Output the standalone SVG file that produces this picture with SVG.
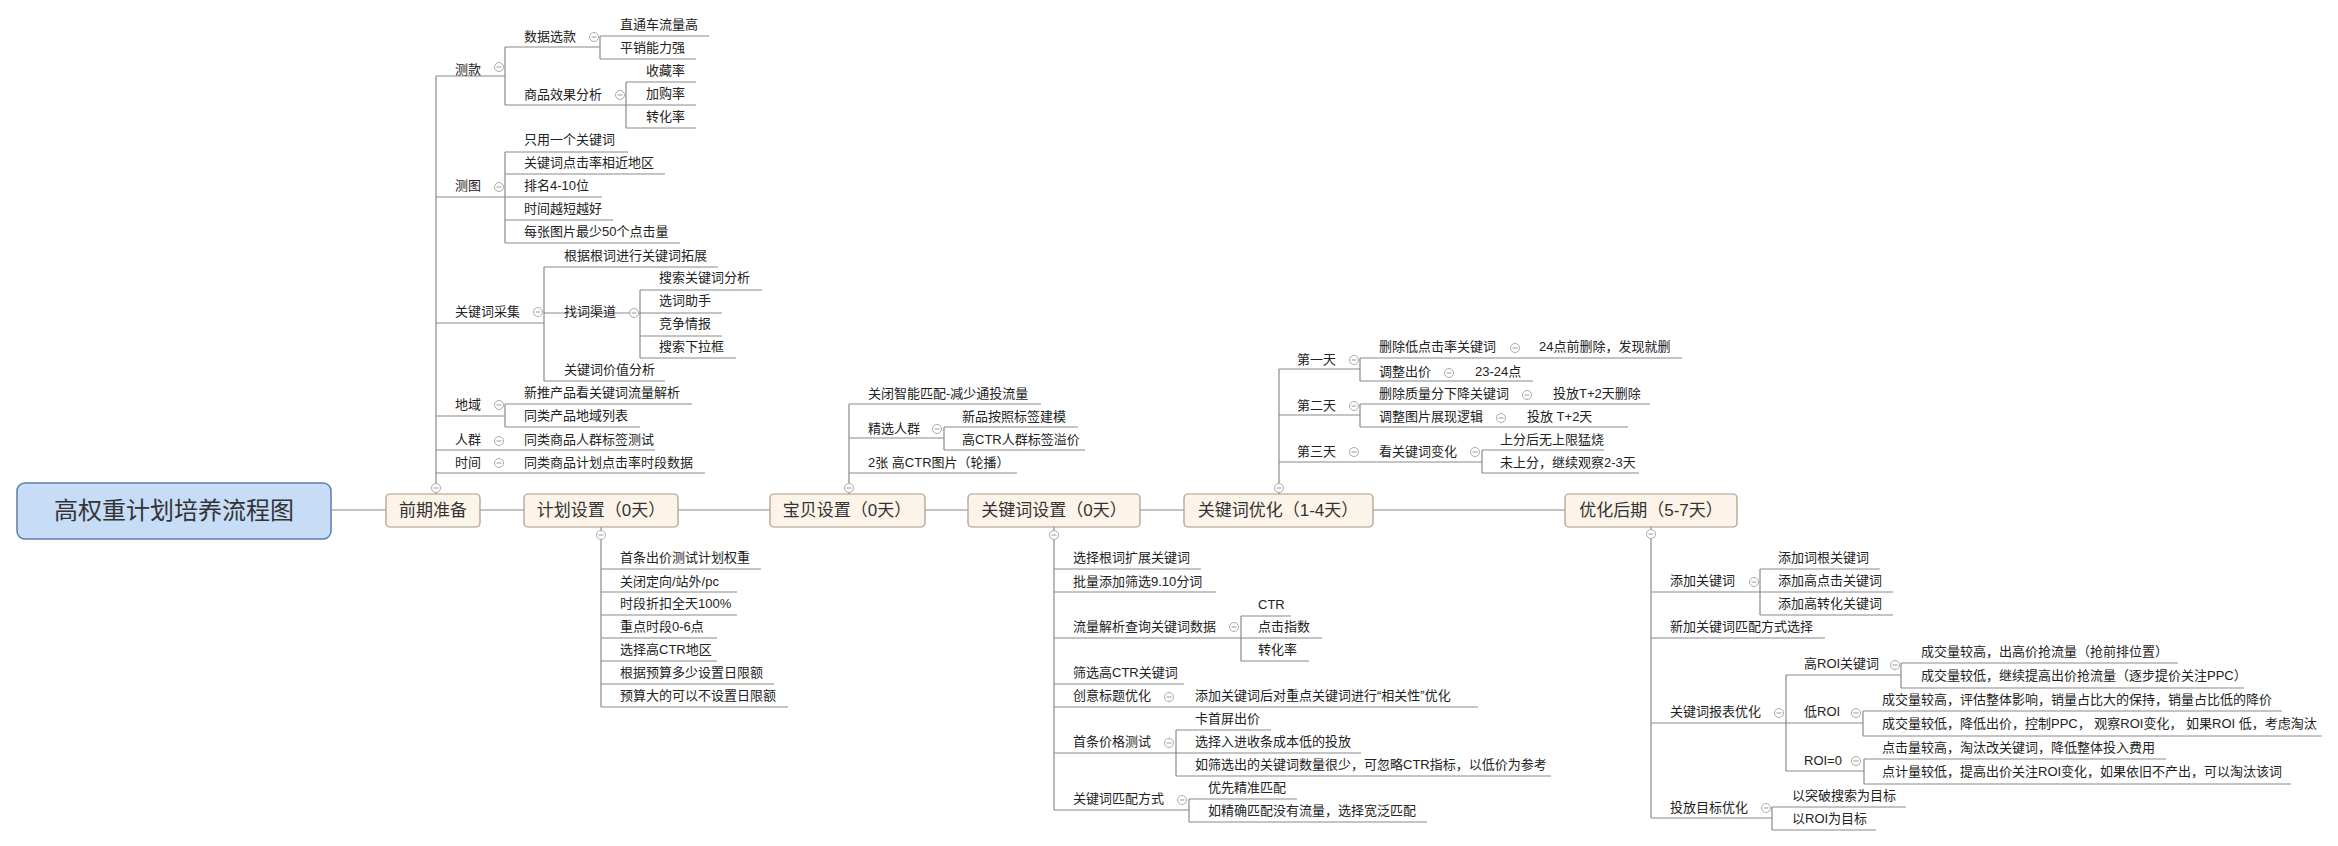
<svg xmlns="http://www.w3.org/2000/svg" xmlns:xlink="http://www.w3.org/1999/xlink" width="2338" height="846" viewBox="0 0 2338 846">
<style>
.t{font-family:"Liberation Sans","Noto Sans CJK SC",sans-serif;font-size:13px;fill:#222;white-space:pre}
.b{font-family:"Liberation Sans","Noto Sans CJK SC",sans-serif;font-size:17px;fill:#333;text-anchor:middle}
.box{fill:#fcf4e9;stroke:#a89a88;stroke-width:1.2}
.ln{fill:none;stroke:#8a8a8a;stroke-width:1.2}
</style>
<defs>
<g id="c"><circle r="4.5" fill="#fff" stroke="#aaa" stroke-width="1"/><line x1="-2.5" y1="0" x2="2.5" y2="0" stroke="#999" stroke-width="1"/></g>
</defs>
<rect width="2338" height="846" fill="#fff"/>
<g id="connectors" class="ln">
<path d="M331 510H386M480 510H524M678 510H770M925 510H968M1140 510H1184M1373 510H1565"/>
<!-- 前期准备 -->
<path d="M436 494V76M436 76H505M505 47V105M505 47H600M600 36V59M600 36H709M600 59H696M505 105H626M626 82V128M626 82H696M626 105H696M626 128H696"/>
<path d="M436 197H505M505 152V243M505 152H628M505 174H665M505 197H602M505 220H613M505 243H680"/>
<path d="M436 323H544M544 267V381M544 267H718M544 313H640M640 290V358M640 290H762M640 313H722M640 336H722M640 358H736M544 381H665"/>
<path d="M436 416H505M505 404V427M505 404H692M505 427H640M436 450H655M436 473H705"/>
<!-- 计划设置 -->
<path d="M601 527V707M601 569H761M601 592H737M601 615H737M601 638H717M601 661H717M601 684H774M601 707H788"/>
<!-- 宝贝设置 -->
<path d="M849 494V404M849 404H1041M849 438H944M944 427V450M944 427H1078M944 450H1085M849 473H1017"/>
<!-- 关键词设置 -->
<path d="M1054 527V810M1054 569H1201M1054 592H1216M1054 638H1241M1241 616V661M1241 616H1291M1241 638H1322M1241 661H1309M1054 684H1184M1054 707H1478M1054 753H1176M1176 730V776M1176 730H1271M1176 753H1361M1176 776H1551M1054 810H1189M1189 799V822M1189 799H1297M1189 822H1427"/>
<!-- 关键词优化 -->
<path d="M1279 494V369M1279 369H1360M1360 358V381M1360 358H1682M1360 381H1533M1279 415H1360M1360 404V427M1360 404H1650M1360 427H1628M1279 462H1482M1482 450V473M1482 450H1604M1482 473H1639"/>
<!-- 优化后期 -->
<path d="M1651 527V818M1651 592H1760M1760 569V615M1760 569H1880M1760 592H1893M1760 615H1893M1651 638H1825M1651 723H1786M1786 675V771M1786 675H1901M1901 663V688M1901 663H2178M1901 688H2244M1786 723H1863M1863 711V736M1863 711H2282M1863 736H2322M1786 771H1864M1864 759V784M1864 759H2166M1864 784H2291M1651 818H1772M1772 807V830M1772 807H1906M1772 830H1876"/>
</g>
<g id="toggles">
<use href="#c" x="436" y="488"/><use href="#c" x="601" y="535"/><use href="#c" x="849" y="488"/><use href="#c" x="1054" y="535"/><use href="#c" x="1279" y="488"/><use href="#c" x="1651" y="534"/>
<use href="#c" x="499" y="67"/><use href="#c" x="594" y="37"/><use href="#c" x="620" y="95"/><use href="#c" x="499" y="187"/><use href="#c" x="538" y="312"/><use href="#c" x="634" y="313"/><use href="#c" x="499" y="405"/><use href="#c" x="499" y="441"/><use href="#c" x="499" y="463"/>
<use href="#c" x="937" y="429"/>
<use href="#c" x="1234" y="627"/><use href="#c" x="1169" y="697"/><use href="#c" x="1169" y="743"/><use href="#c" x="1182" y="800"/>
<use href="#c" x="1354" y="360"/><use href="#c" x="1515" y="348"/><use href="#c" x="1449" y="373"/><use href="#c" x="1354" y="406"/><use href="#c" x="1527" y="395"/><use href="#c" x="1501" y="418"/><use href="#c" x="1354" y="452"/><use href="#c" x="1475" y="452"/>
<use href="#c" x="1754" y="582"/><use href="#c" x="1779" y="713"/><use href="#c" x="1895" y="665"/><use href="#c" x="1856" y="713"/><use href="#c" x="1856" y="761"/><use href="#c" x="1766" y="808"/>
</g>
<g id="title"><rect x="17" y="483" width="314" height="56" rx="8" fill="#c6dcf7" stroke="#5d7ea8" stroke-width="1.5"/><text x="174" y="519" font-family="Liberation Sans,Noto Sans CJK SC,sans-serif" font-size="24" fill="#333" text-anchor="middle">高权重计划培养流程图</text></g>
<g id="n-qqzb"><rect class="box" x="386" y="494" width="94" height="33" rx="4"/><text class="b" x="433" y="516">前期准备</text></g>
<g id="n-jhsz"><rect class="box" x="524" y="494" width="154" height="33" rx="4"/><text class="b" x="601" y="516">计划设置（0天）</text></g>
<g id="n-bbsz"><rect class="box" x="770" y="494" width="155" height="33" rx="4"/><text class="b" x="847" y="516">宝贝设置（0天）</text></g>
<g id="n-gjcsz"><rect class="box" x="968" y="494" width="172" height="33" rx="4"/><text class="b" x="1054" y="516">关键词设置（0天）</text></g>
<g id="n-gjcyh"><rect class="box" x="1184" y="494" width="189" height="33" rx="4"/><text class="b" x="1278" y="516">关键词优化（1-4天）</text></g>
<g id="n-yhhq"><rect class="box" x="1565" y="494" width="172" height="33" rx="4"/><text class="b" x="1651" y="516">优化后期（5-7天）</text></g>
<g id="n-qqzb-children" class="t">
<text x="455" y="74">测款</text><text x="524" y="41">数据选款</text><text x="620" y="29">直通车流量高</text><text x="620" y="52">平销能力强</text>
<text x="524" y="99">商品效果分析</text><text x="646" y="75">收藏率</text><text x="646" y="98">加购率</text><text x="646" y="121">转化率</text>
<text x="455" y="190">测图</text><text x="524" y="144">只用一个关键词</text><text x="524" y="167">关键词点击率相近地区</text><text x="524" y="190">排名4-10位</text><text x="524" y="213">时间越短越好</text><text x="524" y="236">每张图片最少50个点击量</text>
<text x="455" y="316">关键词采集</text><text x="564" y="260">根据根词进行关键词拓展</text><text x="564" y="316">找词渠道</text><text x="659" y="282">搜索关键词分析</text><text x="659" y="305">选词助手</text><text x="659" y="328">竞争情报</text><text x="659" y="351">搜索下拉框</text><text x="564" y="374">关键词价值分析</text>
<text x="455" y="409">地域</text><text x="524" y="397">新推产品看关键词流量解析</text><text x="524" y="420">同类产品地域列表</text>
<text x="455" y="444">人群</text><text x="524" y="444">同类商品人群标签测试</text>
<text x="455" y="467">时间</text><text x="524" y="467">同类商品计划点击率时段数据</text>
</g>
<g id="n-jhsz-children" class="t">
<text x="620" y="562">首条出价测试计划权重</text><text x="620" y="586">关闭定向/站外/pc</text><text x="620" y="608">时段折扣全天100%</text><text x="620" y="631">重点时段0-6点</text><text x="620" y="654">选择高CTR地区</text><text x="620" y="677">根据预算多少设置日限额</text><text x="620" y="700">预算大的可以不设置日限额</text>
</g>
<g id="n-bbsz-children" class="t">
<text x="868" y="398">关闭智能匹配-减少通投流量</text><text x="868" y="433">精选人群</text><text x="962" y="421">新品按照标签建模</text><text x="962" y="444">高CTR人群标签溢价</text><text x="868" y="467">2张 高CTR图片（轮播）</text>
</g>
<g id="n-gjcsz-children" class="t">
<text x="1073" y="562">选择根词扩展关键词</text><text x="1073" y="586">批量添加筛选9.10分词</text><text x="1073" y="631">流量解析查询关键词数据</text><text x="1258" y="609">CTR</text><text x="1258" y="631">点击指数</text><text x="1258" y="654">转化率</text>
<text x="1073" y="677">筛选高CTR关键词</text><text x="1073" y="700">创意标题优化</text><text x="1195" y="700">添加关键词后对重点关键词进行“相关性”优化</text>
<text x="1073" y="746">首条价格测试</text><text x="1195" y="723">卡首屏出价</text><text x="1195" y="746">选择入进收条成本低的投放</text><text x="1195" y="769">如筛选出的关键词数量很少，可忽略CTR指标，以低价为参考</text>
<text x="1073" y="803">关键词匹配方式</text><text x="1208" y="792">优先精准匹配</text><text x="1208" y="815">如精确匹配没有流量，选择宽泛匹配</text>
</g>
<g id="n-gjcyh-children" class="t">
<text x="1297" y="364">第一天</text><text x="1379" y="351">删除低点击率关键词</text><text x="1539" y="351">24点前删除，发现就删</text><text x="1379" y="376">调整出价</text><text x="1475" y="376">23-24点</text>
<text x="1297" y="410">第二天</text><text x="1379" y="398">删除质量分下降关键词</text><text x="1553" y="398">投放T+2天删除</text><text x="1379" y="421">调整图片展现逻辑</text><text x="1527" y="421">投放     T+2天</text>
<text x="1297" y="456">第三天</text><text x="1379" y="456">看关键词变化</text><text x="1500" y="444">上分后无上限猛烧</text><text x="1500" y="467">未上分，继续观察2-3天</text>
</g>
<g id="n-yhhq-children" class="t">
<text x="1670" y="585">添加关键词</text><text x="1778" y="562">添加词根关键词</text><text x="1778" y="585">添加高点击关键词</text><text x="1778" y="608">添加高转化关键词</text>
<text x="1670" y="631">新加关键词匹配方式选择</text>
<text x="1670" y="716">关键词报表优化</text><text x="1804" y="668">高ROI关键词</text><text x="1921" y="656">成交量较高，出高价抢流量（抢前排位置）</text><text x="1921" y="680">成交量较低，继续提高出价抢流量（逐步提价关注PPC）</text>
<text x="1804" y="716">低ROI</text><text x="1882" y="704">成交量较高，评估整体影响，销量占比大的保持，销量占比低的降价</text><text x="1882" y="728">成交量较低，降低出价，控制PPC， 观察ROI变化， 如果ROI 低，考虑淘汰</text>
<text x="1804" y="765">ROI=0</text><text x="1882" y="752">点击量较高，淘汰改关键词，降低整体投入费用</text><text x="1882" y="776">点计量较低，提高出价关注ROI变化，如果依旧不产出，可以淘汰该词</text>
<text x="1670" y="812">投放目标优化</text><text x="1792" y="800">以突破搜索为目标</text><text x="1792" y="823">以ROI为目标</text>
</g>
</svg>
